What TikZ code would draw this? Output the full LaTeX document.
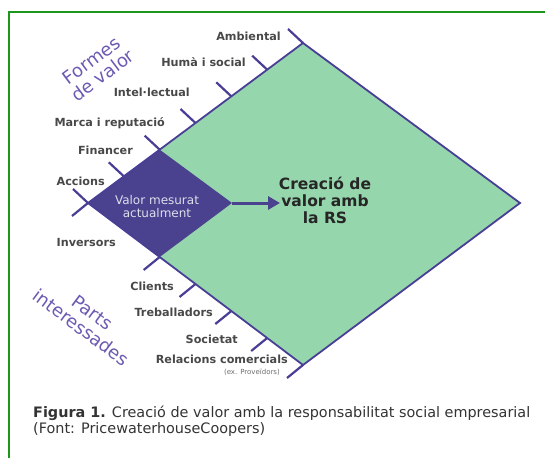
\documentclass[tikz,border=0pt]{standalone}
\usepackage{fontspec}
\setmainfont{DejaVu Sans}
\usetikzlibrary{calc,arrows.meta}
\definecolor{framegreen}{RGB}{28,150,28}
\definecolor{mint}{RGB}{150,214,172}
\definecolor{deeppurple}{RGB}{74,66,142}
\definecolor{edgepurple}{RGB}{72,62,150}
\definecolor{softpurple}{RGB}{108,90,178}
\definecolor{labelgray}{RGB}{72,72,72}
\definecolor{palelilac}{RGB}{222,222,236}
\tikzset{
  lbl/.style={anchor=base east, inner sep=0pt, text=labelgray, font=\fontsize{11.2}{13}\selectfont\bfseries},
  tickline/.style={draw=edgepurple, line width=2.2pt},
  bigtitle/.style={font=\fontsize{18}{19}\selectfont, text=softpurple, align=center, inner sep=0pt},
  capline/.style={anchor=base west, inner sep=0pt, font=\fontsize{14.4}{15}\selectfont, text=black!80},
}
\begin{document}
\begin{tikzpicture}[x=1pt,y=-1pt]
\useasboundingbox (0,0) rectangle (545,457);
\draw[framegreen, line width=2.2pt] (546,12) -- (9,12) -- (9,458);
\coordinate (T) at (303,43);
\coordinate (R) at (520,203);
\coordinate (B) at (303,365);
\coordinate (L) at (88,203);
\coordinate (pT) at ($(L)!1/3!(T)$);
\coordinate (pR) at ($(L)!1/3!(R)$);
\coordinate (pB) at ($(L)!1/3!(B)$);
\coordinate (tip) at (280,203);
\fill[mint] (T) -- (R) -- (B) -- (L) -- cycle;
\fill[deeppurple] (L) -- (pT) -- (pR) -- (pB) -- cycle;
\draw[edgepurple, line width=1.8pt, line join=miter] (L) -- (T) -- (R) -- (B) -- cycle;
\foreach \k in {0,...,6}
  \draw[tickline] ($(T)!\k/6!(L)$) -- ++(-15,-14);
\foreach \k in {0,2,3,4,5,6}
  \draw[tickline] ($(L)!\k/6!(B)$) -- ++(-16,13);
\draw[deeppurple, line width=3pt, -{Triangle[length=12pt,width=13pt]}] (pR) -- (tip);
\node[font=\fontsize{12}{13}\selectfont, text=palelilac, align=center] (vm) at (157,207) {Valor mesurat\\actualment};
\node[font=\fontsize{15.5}{17}\selectfont\bfseries, text=black!85, align=center] (rs) at (325,200) {Creació de\\valor amb\\la RS};
\node[lbl] (amb) at (281,41) {Ambiental};
\node[lbl] (hum) at (246,67) {Humà i social};
\node[lbl] (int) at (190,97) {Intel·lectual};
\node[lbl] (mar) at (165,127) {Marca i reputació};
\node[lbl] (fin) at (133,154) {Financer};
\node[lbl] (acc) at (105,185) {Accions};
\node[lbl] (inv) at (116,246) {Inversors};
\node[lbl] (cli) at (174,290) {Clients};
\node[lbl] (tre) at (213,316) {Treballadors};
\node[lbl] (soc) at (238,343) {Societat};
\node[lbl] (rel) at (288,363) {Relacions comercials};
\node[lbl, font=\fontsize{7}{8}\selectfont, text=labelgray!80] (prov) at (280,374) {(ex. Proveïdors)};
\node[bigtitle, rotate=36.7] (fv) at (97,68) {Formes\\de valor};
\node[bigtitle, rotate=-36.7] (pi) at (87,320) {Parts\\interessades};
\node[capline] (capa) at (33,417) {\textbf{Figura 1.} Creació de valor amb la responsabilitat social empresarial};
\node[capline] (capb) at (33,433) {(Font: PricewaterhouseCoopers)};
\end{tikzpicture}
\end{document}
